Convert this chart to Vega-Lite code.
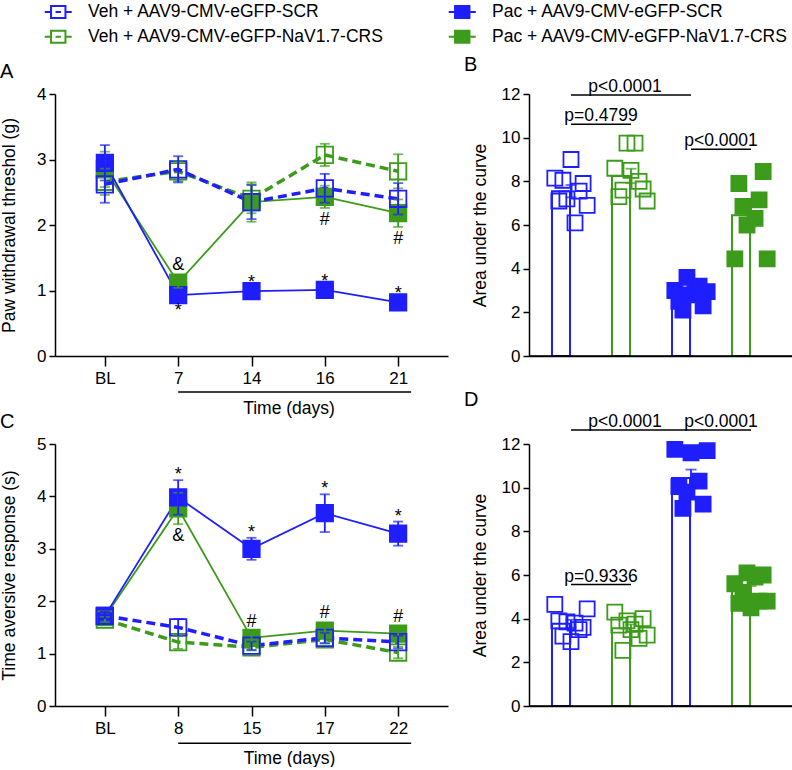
{
"$schema":"https://vega.github.io/schema/vega-lite/v6.json",
"padding":{"left":0,"top":3,"right":0,"bottom":0},
"config":{"font":"Liberation Sans","view":{"stroke":null},
"axis":{"domainColor":"black","domainWidth":1.5,"tickColor":"black","tickWidth":1.5,"tickSize":6,"labelColor":"black","labelFontSize":17,"labelPadding":3,"titleColor":"black","titleFontSize":17.5,"titleFontWeight":"normal","grid":false},
"legend":{"labelFontSize":17.5,"labelOffset":21,"labelLimit":400,"labelColor":"black","symbolType":"M-2.25,0H-1.2M-1.2,-1H1.2V1H-1.2ZM1.2,0H2.25M-0.45,0H0.45","symbolSize":144,"symbolStrokeWidth":2,"columns":2,"columnPadding":60,"rowPadding":4},
"title":{"fontSize":20,"fontWeight":"normal","anchor":"start","frame":"bounds","baseline":"alphabetic","offset":3,"color":"black"},
"text":{"color":"black"}},
"datasets":{
"A":[
{"g":"Pac + AAV9-CMV-eGFP-NaV1.7-CRS","treat":"Pac","day":"BL","dnum":0,"mean":2.85,"sem":0.27},
{"g":"Pac + AAV9-CMV-eGFP-NaV1.7-CRS","treat":"Pac","day":"7","dnum":7,"mean":1.12,"sem":0.08,"sig":"&","pos":"above"},
{"g":"Pac + AAV9-CMV-eGFP-NaV1.7-CRS","treat":"Pac","day":"14","dnum":14,"mean":2.35,"sem":0.3},
{"g":"Pac + AAV9-CMV-eGFP-NaV1.7-CRS","treat":"Pac","day":"16","dnum":16,"mean":2.43,"sem":0.17,"sig":"#","pos":"below"},
{"g":"Pac + AAV9-CMV-eGFP-NaV1.7-CRS","treat":"Pac","day":"21","dnum":21,"mean":2.18,"sem":0.21,"sig":"#","pos":"below"},
{"g":"Pac + AAV9-CMV-eGFP-SCR","treat":"Pac","day":"BL","dnum":0,"mean":2.95,"sem":0.27},
{"g":"Pac + AAV9-CMV-eGFP-SCR","treat":"Pac","day":"7","dnum":7,"mean":0.93,"sem":0.06,"sig":"*","pos":"below"},
{"g":"Pac + AAV9-CMV-eGFP-SCR","treat":"Pac","day":"14","dnum":14,"mean":0.99,"sem":0.05,"sig":"*","pos":"above"},
{"g":"Pac + AAV9-CMV-eGFP-SCR","treat":"Pac","day":"16","dnum":16,"mean":1.01,"sem":0.05,"sig":"*","pos":"above"},
{"g":"Pac + AAV9-CMV-eGFP-SCR","treat":"Pac","day":"21","dnum":21,"mean":0.82,"sem":0.05,"sig":"*","pos":"above"},
{"g":"Veh + AAV9-CMV-eGFP-NaV1.7-CRS","treat":"Veh","day":"BL","dnum":0,"mean":2.66,"sem":0.2},
{"g":"Veh + AAV9-CMV-eGFP-NaV1.7-CRS","treat":"Veh","day":"7","dnum":7,"mean":2.82,"sem":0.15},
{"g":"Veh + AAV9-CMV-eGFP-NaV1.7-CRS","treat":"Veh","day":"14","dnum":14,"mean":2.4,"sem":0.22},
{"g":"Veh + AAV9-CMV-eGFP-NaV1.7-CRS","treat":"Veh","day":"16","dnum":16,"mean":3.07,"sem":0.17},
{"g":"Veh + AAV9-CMV-eGFP-NaV1.7-CRS","treat":"Veh","day":"21","dnum":21,"mean":2.82,"sem":0.26},
{"g":"Veh + AAV9-CMV-eGFP-SCR","treat":"Veh","day":"BL","dnum":0,"mean":2.62,"sem":0.28},
{"g":"Veh + AAV9-CMV-eGFP-SCR","treat":"Veh","day":"7","dnum":7,"mean":2.85,"sem":0.2},
{"g":"Veh + AAV9-CMV-eGFP-SCR","treat":"Veh","day":"14","dnum":14,"mean":2.35,"sem":0.26},
{"g":"Veh + AAV9-CMV-eGFP-SCR","treat":"Veh","day":"16","dnum":16,"mean":2.56,"sem":0.22},
{"g":"Veh + AAV9-CMV-eGFP-SCR","treat":"Veh","day":"21","dnum":21,"mean":2.4,"sem":0.24}
],
"C":[
{"g":"Pac + AAV9-CMV-eGFP-NaV1.7-CRS","treat":"Pac","day":"BL","dnum":0,"mean":1.7,"sem":0.07},
{"g":"Pac + AAV9-CMV-eGFP-NaV1.7-CRS","treat":"Pac","day":"8","dnum":8,"mean":3.77,"sem":0.3,"sig":"&","pos":"below"},
{"g":"Pac + AAV9-CMV-eGFP-NaV1.7-CRS","treat":"Pac","day":"15","dnum":15,"mean":1.3,"sem":0.08,"sig":"#","pos":"above"},
{"g":"Pac + AAV9-CMV-eGFP-NaV1.7-CRS","treat":"Pac","day":"17","dnum":17,"mean":1.44,"sem":0.1,"sig":"#","pos":"above"},
{"g":"Pac + AAV9-CMV-eGFP-NaV1.7-CRS","treat":"Pac","day":"22","dnum":22,"mean":1.38,"sem":0.08,"sig":"#","pos":"above"},
{"g":"Pac + AAV9-CMV-eGFP-SCR","treat":"Pac","day":"BL","dnum":0,"mean":1.72,"sem":0.08},
{"g":"Pac + AAV9-CMV-eGFP-SCR","treat":"Pac","day":"8","dnum":8,"mean":3.98,"sem":0.33,"sig":"*","pos":"above"},
{"g":"Pac + AAV9-CMV-eGFP-SCR","treat":"Pac","day":"15","dnum":15,"mean":3.0,"sem":0.21,"sig":"*","pos":"above"},
{"g":"Pac + AAV9-CMV-eGFP-SCR","treat":"Pac","day":"17","dnum":17,"mean":3.68,"sem":0.36,"sig":"*","pos":"above"},
{"g":"Pac + AAV9-CMV-eGFP-SCR","treat":"Pac","day":"22","dnum":22,"mean":3.29,"sem":0.23,"sig":"*","pos":"above"},
{"g":"Veh + AAV9-CMV-eGFP-NaV1.7-CRS","treat":"Veh","day":"BL","dnum":0,"mean":1.65,"sem":0.05},
{"g":"Veh + AAV9-CMV-eGFP-NaV1.7-CRS","treat":"Veh","day":"8","dnum":8,"mean":1.22,"sem":0.13},
{"g":"Veh + AAV9-CMV-eGFP-NaV1.7-CRS","treat":"Veh","day":"15","dnum":15,"mean":1.12,"sem":0.06},
{"g":"Veh + AAV9-CMV-eGFP-NaV1.7-CRS","treat":"Veh","day":"17","dnum":17,"mean":1.27,"sem":0.08},
{"g":"Veh + AAV9-CMV-eGFP-NaV1.7-CRS","treat":"Veh","day":"22","dnum":22,"mean":1.02,"sem":0.11},
{"g":"Veh + AAV9-CMV-eGFP-SCR","treat":"Veh","day":"BL","dnum":0,"mean":1.72,"sem":0.06},
{"g":"Veh + AAV9-CMV-eGFP-SCR","treat":"Veh","day":"8","dnum":8,"mean":1.5,"sem":0.16},
{"g":"Veh + AAV9-CMV-eGFP-SCR","treat":"Veh","day":"15","dnum":15,"mean":1.15,"sem":0.08},
{"g":"Veh + AAV9-CMV-eGFP-SCR","treat":"Veh","day":"17","dnum":17,"mean":1.3,"sem":0.1},
{"g":"Veh + AAV9-CMV-eGFP-SCR","treat":"Veh","day":"22","dnum":22,"mean":1.22,"sem":0.12}
],
"B":[
{"g":"Veh + AAV9-CMV-eGFP-SCR","rep":1,"v":8.15},{"g":"Veh + AAV9-CMV-eGFP-SCR","rep":2,"v":7.1},{"g":"Veh + AAV9-CMV-eGFP-SCR","rep":3,"v":8.05},{"g":"Veh + AAV9-CMV-eGFP-SCR","rep":4,"v":7.2},{"g":"Veh + AAV9-CMV-eGFP-SCR","rep":5,"v":9.0},{"g":"Veh + AAV9-CMV-eGFP-SCR","rep":6,"v":6.1},{"g":"Veh + AAV9-CMV-eGFP-SCR","rep":7,"v":7.55},{"g":"Veh + AAV9-CMV-eGFP-SCR","rep":8,"v":7.9},{"g":"Veh + AAV9-CMV-eGFP-SCR","rep":9,"v":6.9},
{"g":"Veh + AAV9-CMV-eGFP-NaV1.7-CRS","rep":1,"v":8.6},{"g":"Veh + AAV9-CMV-eGFP-NaV1.7-CRS","rep":2,"v":7.3},{"g":"Veh + AAV9-CMV-eGFP-NaV1.7-CRS","rep":3,"v":7.6},{"g":"Veh + AAV9-CMV-eGFP-NaV1.7-CRS","rep":4,"v":9.75},{"g":"Veh + AAV9-CMV-eGFP-NaV1.7-CRS","rep":5,"v":8.5},{"g":"Veh + AAV9-CMV-eGFP-NaV1.7-CRS","rep":6,"v":9.75},{"g":"Veh + AAV9-CMV-eGFP-NaV1.7-CRS","rep":7,"v":8.0},{"g":"Veh + AAV9-CMV-eGFP-NaV1.7-CRS","rep":8,"v":7.65},{"g":"Veh + AAV9-CMV-eGFP-NaV1.7-CRS","rep":9,"v":7.1},
{"g":"Pac + AAV9-CMV-eGFP-SCR","rep":1,"v":3.0},{"g":"Pac + AAV9-CMV-eGFP-SCR","rep":2,"v":2.5},{"g":"Pac + AAV9-CMV-eGFP-SCR","rep":3,"v":2.1},{"g":"Pac + AAV9-CMV-eGFP-SCR","rep":4,"v":3.6},{"g":"Pac + AAV9-CMV-eGFP-SCR","rep":5,"v":2.8},{"g":"Pac + AAV9-CMV-eGFP-SCR","rep":6,"v":2.9},{"g":"Pac + AAV9-CMV-eGFP-SCR","rep":7,"v":3.2},{"g":"Pac + AAV9-CMV-eGFP-SCR","rep":8,"v":2.3},{"g":"Pac + AAV9-CMV-eGFP-SCR","rep":9,"v":2.95},
{"g":"Pac + AAV9-CMV-eGFP-NaV1.7-CRS","rep":1,"v":4.45},{"g":"Pac + AAV9-CMV-eGFP-NaV1.7-CRS","rep":2,"v":7.9},{"g":"Pac + AAV9-CMV-eGFP-NaV1.7-CRS","rep":3,"v":6.85},{"g":"Pac + AAV9-CMV-eGFP-NaV1.7-CRS","rep":4,"v":6.0},{"g":"Pac + AAV9-CMV-eGFP-NaV1.7-CRS","rep":6,"v":6.3},{"g":"Pac + AAV9-CMV-eGFP-NaV1.7-CRS","rep":7,"v":7.15},{"g":"Pac + AAV9-CMV-eGFP-NaV1.7-CRS","rep":8,"v":8.45},{"g":"Pac + AAV9-CMV-eGFP-NaV1.7-CRS","rep":9,"v":4.45}
],
"D":[
{"g":"Veh + AAV9-CMV-eGFP-SCR","rep":1,"v":4.65},{"g":"Veh + AAV9-CMV-eGFP-SCR","rep":2,"v":3.9},{"g":"Veh + AAV9-CMV-eGFP-SCR","rep":3,"v":3.2},{"g":"Veh + AAV9-CMV-eGFP-SCR","rep":4,"v":3.85},{"g":"Veh + AAV9-CMV-eGFP-SCR","rep":5,"v":2.95},{"g":"Veh + AAV9-CMV-eGFP-SCR","rep":6,"v":3.8},{"g":"Veh + AAV9-CMV-eGFP-SCR","rep":7,"v":3.5},{"g":"Veh + AAV9-CMV-eGFP-SCR","rep":8,"v":3.6},{"g":"Veh + AAV9-CMV-eGFP-SCR","rep":9,"v":4.45},
{"g":"Veh + AAV9-CMV-eGFP-NaV1.7-CRS","rep":1,"v":4.3},{"g":"Veh + AAV9-CMV-eGFP-NaV1.7-CRS","rep":2,"v":3.7},{"g":"Veh + AAV9-CMV-eGFP-NaV1.7-CRS","rep":3,"v":2.55},{"g":"Veh + AAV9-CMV-eGFP-NaV1.7-CRS","rep":4,"v":3.9},{"g":"Veh + AAV9-CMV-eGFP-NaV1.7-CRS","rep":5,"v":3.5},{"g":"Veh + AAV9-CMV-eGFP-NaV1.7-CRS","rep":6,"v":3.75},{"g":"Veh + AAV9-CMV-eGFP-NaV1.7-CRS","rep":7,"v":3.1},{"g":"Veh + AAV9-CMV-eGFP-NaV1.7-CRS","rep":8,"v":4.0},{"g":"Veh + AAV9-CMV-eGFP-NaV1.7-CRS","rep":9,"v":3.25},
{"g":"Pac + AAV9-CMV-eGFP-SCR","rep":1,"v":11.75},{"g":"Pac + AAV9-CMV-eGFP-SCR","rep":2,"v":10.05},{"g":"Pac + AAV9-CMV-eGFP-SCR","rep":3,"v":9.05},{"g":"Pac + AAV9-CMV-eGFP-SCR","rep":4,"v":9.8},{"g":"Pac + AAV9-CMV-eGFP-SCR","rep":5,"v":11.6},{"g":"Pac + AAV9-CMV-eGFP-SCR","rep":7,"v":10.3},{"g":"Pac + AAV9-CMV-eGFP-SCR","rep":8,"v":9.25},{"g":"Pac + AAV9-CMV-eGFP-SCR","rep":9,"v":11.7},
{"g":"Pac + AAV9-CMV-eGFP-NaV1.7-CRS","rep":1,"v":5.6},{"g":"Pac + AAV9-CMV-eGFP-NaV1.7-CRS","rep":2,"v":4.7},{"g":"Pac + AAV9-CMV-eGFP-NaV1.7-CRS","rep":3,"v":5.2},{"g":"Pac + AAV9-CMV-eGFP-NaV1.7-CRS","rep":4,"v":6.1},{"g":"Pac + AAV9-CMV-eGFP-NaV1.7-CRS","rep":5,"v":4.5},{"g":"Pac + AAV9-CMV-eGFP-NaV1.7-CRS","rep":6,"v":5.9},{"g":"Pac + AAV9-CMV-eGFP-NaV1.7-CRS","rep":7,"v":4.8},{"g":"Pac + AAV9-CMV-eGFP-NaV1.7-CRS","rep":8,"v":6.0},{"g":"Pac + AAV9-CMV-eGFP-NaV1.7-CRS","rep":9,"v":4.8}
],
"pB":[
{"from":"Veh + AAV9-CMV-eGFP-SCR","to":"Veh + AAV9-CMV-eGFP-NaV1.7-CRS","at":"Veh + AAV9-CMV-eGFP-SCR","adj":true,"y":10.62,"p":"p=0.4799"},
{"from":"Veh + AAV9-CMV-eGFP-SCR","to":"Pac + AAV9-CMV-eGFP-SCR","at":"Veh + AAV9-CMV-eGFP-NaV1.7-CRS","adj":false,"y":11.95,"p":"p<0.0001"},
{"from":"Pac + AAV9-CMV-eGFP-SCR","to":"Pac + AAV9-CMV-eGFP-NaV1.7-CRS","at":"Pac + AAV9-CMV-eGFP-SCR","adj":true,"y":9.47,"p":"p<0.0001"}
],
"pD":[
{"from":"Veh + AAV9-CMV-eGFP-SCR","to":"Veh + AAV9-CMV-eGFP-NaV1.7-CRS","at":"Veh + AAV9-CMV-eGFP-SCR","adj":true,"y":5.56,"p":"p=0.9336"},
{"from":"Veh + AAV9-CMV-eGFP-SCR","to":"Pac + AAV9-CMV-eGFP-SCR","at":"Veh + AAV9-CMV-eGFP-NaV1.7-CRS","adj":false,"y":12.64,"p":"p<0.0001"},
{"from":"Pac + AAV9-CMV-eGFP-SCR","to":"Pac + AAV9-CMV-eGFP-NaV1.7-CRS","at":"Pac + AAV9-CMV-eGFP-SCR","adj":true,"y":12.64,"p":"p<0.0001"}
]
},
"columns":2,
"bounds":"flush",
"spacing":{"row":88,"column":81},
"concat":[
{
"title":{"text":"A"},
"width":393,"height":262,
"data":{"name":"A"},
"layer":[
{"transform":[{"filter":"datum.treat=='Pac'"}],"mark":{"type":"line","strokeWidth":1.8},
"encoding":{
"x":{"field":"day","type":"nominal","scale":{"type":"point","domain":["BL","7","14","16","21"],"padding":0.68},"axis":{"labelAngle":0,"tickSize":10,"labelPadding":4,"title":"Time (days)","titleX":233.5,"titleY":52,"titleBaseline":"middle","titleAlign":"center"},"title":"Time (days)"},
"y":{"field":"mean","type":"quantitative","scale":{"domain":[0,4],"nice":false},"axis":{"values":[0,1,2,3,4],"format":"d","titlePadding":18.5,"title":"Paw withdrawal threshol (g)"},"title":"Paw withdrawal threshol (g)"},
"order":{"field":"dnum","type":"quantitative"},
"stroke":{"field":"g","type":"nominal","scale":{"domain":["Veh + AAV9-CMV-eGFP-SCR","Veh + AAV9-CMV-eGFP-NaV1.7-CRS","Pac + AAV9-CMV-eGFP-SCR","Pac + AAV9-CMV-eGFP-NaV1.7-CRS"],"range":["#1e1eff","#3c9b1a","#1e1eff","#3c9b1a"]},"legend":{"title":null,"orient":"none","legendX":-5.5,"legendY":-91}}}},
{"transform":[{"filter":"datum.treat=='Veh'"}],"mark":{"type":"line","strokeWidth":3.5,"strokeDash":[9,5]},
"encoding":{
"x":{"field":"day","type":"nominal","title":"Time (days)"},
"y":{"field":"mean","type":"quantitative","title":"Paw withdrawal threshol (g)"},
"order":{"field":"dnum","type":"quantitative"},
"stroke":{"field":"g","type":"nominal","legend":{"title":null,"orient":"none","legendX":-5.5,"legendY":-91}}}},
{"mark":{"type":"point","shape":"square","filled":true,"size":270,"strokeWidth":1.8,"opacity":1},
"encoding":{
"x":{"field":"day","type":"nominal","title":"Time (days)"},
"y":{"field":"mean","type":"quantitative","title":"Paw withdrawal threshol (g)"},
"stroke":{"field":"g","type":"nominal","legend":{"title":null,"orient":"none","legendX":-5.5,"legendY":-91}},
"fill":{"field":"g","type":"nominal","scale":{"domain":["Veh + AAV9-CMV-eGFP-SCR","Veh + AAV9-CMV-eGFP-NaV1.7-CRS","Pac + AAV9-CMV-eGFP-SCR","Pac + AAV9-CMV-eGFP-NaV1.7-CRS"],"range":["rgba(0,0,0,0)","rgba(0,0,0,0)","#1e1eff","#3c9b1a"]},"legend":{"title":null,"orient":"none","legendX":-5.5,"legendY":-91}}}},
{"mark":{"type":"errorbar","thickness":1.8,"ticks":{"size":10,"thickness":1.8}},
"encoding":{
"x":{"field":"day","type":"nominal","title":"Time (days)"},
"y":{"field":"mean","type":"quantitative","title":"Paw withdrawal threshol (g)"},
"yError":{"field":"sem"},
"color":{"field":"g","type":"nominal","scale":{"domain":["Veh + AAV9-CMV-eGFP-SCR","Veh + AAV9-CMV-eGFP-NaV1.7-CRS","Pac + AAV9-CMV-eGFP-SCR","Pac + AAV9-CMV-eGFP-NaV1.7-CRS"],"range":["#1e1eff","#3c9b1a","#1e1eff","#3c9b1a"]},"legend":null}}},
{"transform":[{"filter":"datum.pos=='above' && datum.sig=='*'"},{"calculate":"datum.mean+datum.sem","as":"hi"}],"mark":{"type":"text","baseline":"alphabetic","fontSize":18,"dy":0},
"encoding":{"x":{"field":"day","type":"nominal","title":"Time (days)"},"y":{"field":"hi","type":"quantitative","title":"Paw withdrawal threshol (g)"},"text":{"field":"sig"}}},
{"transform":[{"filter":"datum.pos=='above' && datum.sig!='*'"},{"calculate":"datum.mean+datum.sem","as":"hi"}],"mark":{"type":"text","baseline":"alphabetic","fontSize":18,"dy":-7},
"encoding":{"x":{"field":"day","type":"nominal","title":"Time (days)"},"y":{"field":"hi","type":"quantitative","title":"Paw withdrawal threshol (g)"},"text":{"field":"sig"}}},
{"transform":[{"filter":"datum.pos=='below'"},{"calculate":"datum.mean-datum.sem","as":"lo"}],"mark":{"type":"text","baseline":"top","fontSize":18,"dy":3},
"encoding":{"x":{"field":"day","type":"nominal","title":"Time (days)"},"y":{"field":"lo","type":"quantitative","title":"Paw withdrawal threshol (g)"},"text":{"field":"sig"}}},
{"data":{"values":[{}]},"mark":{"type":"rule","strokeWidth":1.5,"color":"black","x2Offset":13},
"encoding":{"x":{"datum":"7","type":"nominal"},"x2":{"datum":"21"},"y":{"datum":-0.55,"type":"quantitative"}}}
]
},
{
"title":{"text":"B","dx":-7},
"width":264,"height":262,
"layer":[
{"data":{"name":"B"},"mark":{"type":"bar","fill":"white","strokeWidth":2},
"encoding":{
"x":{"field":"g","type":"nominal","scale":{"domain":["Veh + AAV9-CMV-eGFP-SCR","Veh + AAV9-CMV-eGFP-NaV1.7-CRS","Pac + AAV9-CMV-eGFP-SCR","Pac + AAV9-CMV-eGFP-NaV1.7-CRS"],"paddingInner":0.367,"paddingOuter":0.383},"axis":{"title":null,"labels":false,"ticks":false,"domain":true,"domainColor":"black","domainWidth":1.5,"zindex":1},"title":null},
"y":{"aggregate":"mean","field":"v","type":"quantitative","scale":{"domain":[0,12],"nice":false},"axis":{"values":[0,2,4,6,8,10,12],"titlePadding":12,"title":"Area under the curve"},"title":"Area under the curve"},
"stroke":{"field":"g","type":"nominal","legend":{"title":null,"orient":"none","legendX":-5.5,"legendY":-91}}}},
{"data":{"name":"B"},"mark":{"type":"errorbar","extent":"stderr","thickness":1.8,"ticks":{"size":11,"thickness":1.8}},
"encoding":{
"x":{"field":"g","type":"nominal","title":null,"axis":{"title":null,"labels":false,"ticks":false,"domain":true,"domainColor":"black","domainWidth":1.5,"zindex":1}},
"y":{"field":"v","type":"quantitative","title":"Area under the curve"},
"color":{"field":"g","type":"nominal","legend":null}}},
{"data":{"name":"B"},"mark":{"type":"point","shape":"square","filled":true,"size":225,"strokeWidth":1.8,"opacity":1},
"encoding":{
"x":{"field":"g","type":"nominal","title":null,"axis":{"title":null,"labels":false,"ticks":false,"domain":true,"domainColor":"black","domainWidth":1.5,"zindex":1}},
"xOffset":{"field":"rep","type":"ordinal","scale":{"paddingOuter":0.7,"paddingInner":0}},
"y":{"field":"v","type":"quantitative","title":"Area under the curve"},
"stroke":{"field":"g","type":"nominal","legend":{"title":null,"orient":"none","legendX":-5.5,"legendY":-91}},
"fill":{"field":"g","type":"nominal","legend":{"title":null,"orient":"none","legendX":-5.5,"legendY":-91}}}},
{"data":{"name":"pB"},"mark":{"type":"rule","strokeWidth":1.5,"color":"black"},
"encoding":{"x":{"field":"from","type":"nominal","title":null,"axis":{"title":null,"labels":false,"ticks":false,"domain":true,"domainColor":"black","domainWidth":1.5,"zindex":1}},"x2":{"field":"to"},"y":{"field":"y","type":"quantitative","title":"Area under the curve"}}},
{"data":{"name":"pB"},"transform":[{"filter":"datum.adj"}],"mark":{"type":"text","dx":30,"dy":-3,"baseline":"alphabetic","fontSize":17.5},
"encoding":{"x":{"field":"at","type":"nominal","title":null,"axis":{"title":null,"labels":false,"ticks":false,"domain":true,"domainColor":"black","domainWidth":1.5,"zindex":1}},"y":{"field":"y","type":"quantitative","title":"Area under the curve"},"text":{"field":"p"}}},
{"data":{"name":"pB"},"transform":[{"filter":"!datum.adj"}],"mark":{"type":"text","dx":-6,"dy":-3,"baseline":"alphabetic","fontSize":17.5},
"encoding":{"x":{"field":"at","type":"nominal","title":null,"axis":{"title":null,"labels":false,"ticks":false,"domain":true,"domainColor":"black","domainWidth":1.5,"zindex":1}},"y":{"field":"y","type":"quantitative","title":"Area under the curve"},"text":{"field":"p"}}},
{"data":{"values":[{}]},"mark":{"type":"rule","strokeWidth":1.5,"color":"black"},
"encoding":{"y":{"datum":0,"type":"quantitative"}}}
]
},
{
"title":{"text":"C"},
"width":393,"height":262,
"data":{"name":"C"},
"layer":[
{"transform":[{"filter":"datum.treat=='Pac'"}],"mark":{"type":"line","strokeWidth":1.8},
"encoding":{
"x":{"field":"day","type":"nominal","scale":{"type":"point","domain":["BL","8","15","17","22"],"padding":0.68},"axis":{"labelAngle":0,"tickSize":10,"labelPadding":4,"title":"Time (days)","titleX":234,"titleY":52,"titleBaseline":"middle","titleAlign":"center"},"title":"Time (days)"},
"y":{"field":"mean","type":"quantitative","scale":{"domain":[0,5],"nice":false},"axis":{"values":[0,1,2,3,4,5],"format":"d","titlePadding":18.5,"title":"Time aversive response (s)"},"title":"Time aversive response (s)"},
"order":{"field":"dnum","type":"quantitative"},
"stroke":{"field":"g","type":"nominal","legend":{"title":null,"orient":"none","legendX":-5.5,"legendY":-91}}}},
{"transform":[{"filter":"datum.treat=='Veh'"}],"mark":{"type":"line","strokeWidth":3.5,"strokeDash":[9,5]},
"encoding":{
"x":{"field":"day","type":"nominal","title":"Time (days)"},
"y":{"field":"mean","type":"quantitative","title":"Time aversive response (s)"},
"order":{"field":"dnum","type":"quantitative"},
"stroke":{"field":"g","type":"nominal","legend":{"title":null,"orient":"none","legendX":-5.5,"legendY":-91}}}},
{"mark":{"type":"point","shape":"square","filled":true,"size":270,"strokeWidth":1.8,"opacity":1},
"encoding":{
"x":{"field":"day","type":"nominal","title":"Time (days)"},
"y":{"field":"mean","type":"quantitative","title":"Time aversive response (s)"},
"stroke":{"field":"g","type":"nominal","legend":{"title":null,"orient":"none","legendX":-5.5,"legendY":-91}},
"fill":{"field":"g","type":"nominal","legend":{"title":null,"orient":"none","legendX":-5.5,"legendY":-91}}}},
{"mark":{"type":"errorbar","thickness":1.8,"ticks":{"size":10,"thickness":1.8}},
"encoding":{
"x":{"field":"day","type":"nominal","title":"Time (days)"},
"y":{"field":"mean","type":"quantitative","title":"Time aversive response (s)"},
"yError":{"field":"sem"},
"color":{"field":"g","type":"nominal","legend":null}}},
{"transform":[{"filter":"datum.pos=='above' && datum.sig=='*'"},{"calculate":"datum.mean+datum.sem","as":"hi"}],"mark":{"type":"text","baseline":"alphabetic","fontSize":18,"dy":0},
"encoding":{"x":{"field":"day","type":"nominal","title":"Time (days)"},"y":{"field":"hi","type":"quantitative","title":"Time aversive response (s)"},"text":{"field":"sig"}}},
{"transform":[{"filter":"datum.pos=='above' && datum.sig!='*'"},{"calculate":"datum.mean+datum.sem","as":"hi"}],"mark":{"type":"text","baseline":"alphabetic","fontSize":18,"dy":-7},
"encoding":{"x":{"field":"day","type":"nominal","title":"Time (days)"},"y":{"field":"hi","type":"quantitative","title":"Time aversive response (s)"},"text":{"field":"sig"}}},
{"transform":[{"filter":"datum.pos=='below'"},{"calculate":"datum.mean-datum.sem","as":"lo"}],"mark":{"type":"text","baseline":"top","fontSize":18,"dy":3},
"encoding":{"x":{"field":"day","type":"nominal","title":"Time (days)"},"y":{"field":"lo","type":"quantitative","title":"Time aversive response (s)"},"text":{"field":"sig"}}},
{"data":{"values":[{}]},"mark":{"type":"rule","strokeWidth":1.5,"color":"black","x2Offset":13},
"encoding":{"x":{"datum":"8","type":"nominal"},"x2":{"datum":"22"},"y":{"datum":-0.71,"type":"quantitative"}}}
]
},
{
"title":{"text":"D","dx":-7},
"width":264,"height":262,
"layer":[
{"data":{"name":"D"},"mark":{"type":"bar","fill":"white","strokeWidth":2},
"encoding":{
"x":{"field":"g","type":"nominal","scale":{"domain":["Veh + AAV9-CMV-eGFP-SCR","Veh + AAV9-CMV-eGFP-NaV1.7-CRS","Pac + AAV9-CMV-eGFP-SCR","Pac + AAV9-CMV-eGFP-NaV1.7-CRS"],"paddingInner":0.367,"paddingOuter":0.383},"axis":{"title":null,"labels":false,"ticks":false,"domain":true,"domainColor":"black","domainWidth":1.5,"zindex":1},"title":null},
"y":{"aggregate":"mean","field":"v","type":"quantitative","scale":{"domain":[0,12],"nice":false},"axis":{"values":[0,2,4,6,8,10,12],"titlePadding":12,"title":"Area under the curve"},"title":"Area under the curve"},
"stroke":{"field":"g","type":"nominal","legend":{"title":null,"orient":"none","legendX":-5.5,"legendY":-91}}}},
{"data":{"name":"D"},"mark":{"type":"errorbar","extent":"stderr","thickness":1.8,"ticks":{"size":11,"thickness":1.8}},
"encoding":{
"x":{"field":"g","type":"nominal","title":null,"axis":{"title":null,"labels":false,"ticks":false,"domain":true,"domainColor":"black","domainWidth":1.5,"zindex":1}},
"y":{"field":"v","type":"quantitative","title":"Area under the curve"},
"color":{"field":"g","type":"nominal","legend":null}}},
{"data":{"name":"D"},"mark":{"type":"point","shape":"square","filled":true,"size":225,"strokeWidth":1.8,"opacity":1},
"encoding":{
"x":{"field":"g","type":"nominal","title":null,"axis":{"title":null,"labels":false,"ticks":false,"domain":true,"domainColor":"black","domainWidth":1.5,"zindex":1}},
"xOffset":{"field":"rep","type":"ordinal","scale":{"paddingOuter":0.7,"paddingInner":0}},
"y":{"field":"v","type":"quantitative","title":"Area under the curve"},
"stroke":{"field":"g","type":"nominal","legend":{"title":null,"orient":"none","legendX":-5.5,"legendY":-91}},
"fill":{"field":"g","type":"nominal","legend":{"title":null,"orient":"none","legendX":-5.5,"legendY":-91}}}},
{"data":{"name":"pD"},"mark":{"type":"rule","strokeWidth":1.5,"color":"black"},
"encoding":{"x":{"field":"from","type":"nominal","title":null,"axis":{"title":null,"labels":false,"ticks":false,"domain":true,"domainColor":"black","domainWidth":1.5,"zindex":1}},"x2":{"field":"to"},"y":{"field":"y","type":"quantitative","title":"Area under the curve"}}},
{"data":{"name":"pD"},"transform":[{"filter":"datum.adj"}],"mark":{"type":"text","dx":30,"dy":-3,"baseline":"alphabetic","fontSize":17.5},
"encoding":{"x":{"field":"at","type":"nominal","title":null,"axis":{"title":null,"labels":false,"ticks":false,"domain":true,"domainColor":"black","domainWidth":1.5,"zindex":1}},"y":{"field":"y","type":"quantitative","title":"Area under the curve"},"text":{"field":"p"}}},
{"data":{"name":"pD"},"transform":[{"filter":"!datum.adj"}],"mark":{"type":"text","dx":-6,"dy":-3,"baseline":"alphabetic","fontSize":17.5},
"encoding":{"x":{"field":"at","type":"nominal","title":null,"axis":{"title":null,"labels":false,"ticks":false,"domain":true,"domainColor":"black","domainWidth":1.5,"zindex":1}},"y":{"field":"y","type":"quantitative","title":"Area under the curve"},"text":{"field":"p"}}},
{"data":{"values":[{}]},"mark":{"type":"rule","strokeWidth":1.5,"color":"black"},
"encoding":{"y":{"datum":0,"type":"quantitative"}}}
]
}
]
}
